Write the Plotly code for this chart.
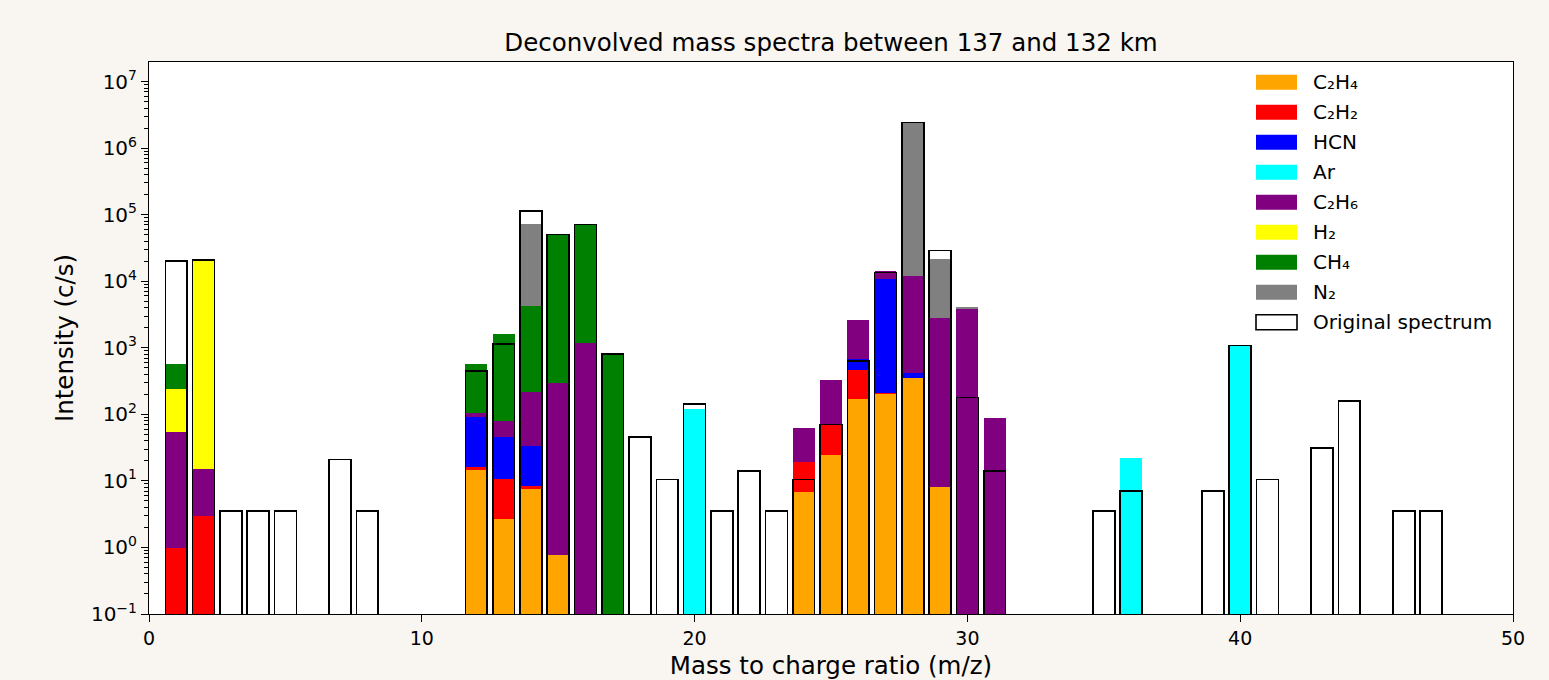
import plotly.graph_objects as go

# ---------------- data ----------------
C2H4_mz = [12, 13, 14, 15, 24, 25, 26, 27, 28, 29]
C2H4_val = [14.6, 2.66, 7.75, 0.77, 6.8, 24.2, 168, 208, 350, 8.1]

C2H2_mz = [1, 2, 12, 13, 14, 24, 25, 26, 27]
C2H2_val = [0.98, 2.95, 1.6, 8.2, 0.55, 12.4, 46.5, 288, 2]

HCN_mz = [12, 13, 14, 26, 27, 28]
HCN_val = [75, 34.7, 24.7, 211, 10730, 66]

Ar_mz = [20, 36, 40]
Ar_val = [120, 21.9, 1082]

C2H6_mz = [1, 2, 12, 13, 14, 15, 16, 24, 25, 26, 27, 28, 29, 30, 31]
C2H6_val = [52.6, 12, 13, 33.4, 180, 293, 1172, 42.3, 263, 1990, 3330, 11444, 2837, 3882, 87]

H2_mz = [1, 2]
H2_val = [183, 20985]

CH4_mz = [1, 12, 13, 14, 15, 16, 17]
CH4_val = [344, 457, 1506, 4097, 50300, 70230, 802]

N2_mz = [14, 28, 29, 30]
N2_val = [68790, 2.408e6, 18955, 233]

orig_mz = [1, 2, 3, 4, 5, 7, 8, 12, 13, 14, 15, 16, 17, 18, 19, 20, 21, 22, 23,
           24, 25, 26, 27, 28, 29, 30, 31, 35, 36, 39, 40, 41, 43, 44, 46, 47]
orig_val = [20000, 21000, 3.5, 3.5, 3.5, 21, 3.5, 446, 1148, 114500, 50600, 71400,
            802, 45.5, 10.5, 143, 3.5, 14, 3.5, 10.5, 70, 629, 13600, 2.42e6, 29100,
            180, 14, 3.5, 7, 7, 1082, 10.5, 31.5, 157.5, 3.5, 3.5]
orig_name = "Original spectrum"

species_names = ["C₂H₄", "C₂H₂", "HCN", "Ar", "C₂H₆", "H₂", "CH₄", "N₂"]
species_colors = ["#FFA500", "#FF0000", "#0000FF", "#00FFFF", "#800080", "#FFFF00", "#008000", "#808080"]
species_mz = [C2H4_mz, C2H2_mz, HCN_mz, Ar_mz, C2H6_mz, H2_mz, CH4_mz, N2_mz]
species_val = [C2H4_val, C2H2_val, HCN_val, Ar_val, C2H6_val, H2_val, CH4_val, N2_val]

y_tickvals = [1e-1, 1e0, 1e1, 1e2, 1e3, 1e4, 1e5, 1e6, 1e7]
y_ticktext = ["10<sup>−1</sup>", "10<sup>0</sup>", "10<sup>1</sup>", "10<sup>2</sup>",
              "10<sup>3</sup>", "10<sup>4</sup>", "10<sup>5</sup>", "10<sup>6</sup>",
              "10<sup>7</sup>"]
x_tickvals = [0, 10, 20, 30, 40, 50]

# ---------------- layout geometry (pixels) ----------------
W, H = 1549, 680
L, R, T, B = 149, 36, 62, 66
PW, PH = W - L - R, H - T - B


def px_x(px):
    return (px - L) / PW


def px_y(py):
    return (H - B - py) / PH


FONT = "DejaVu Sans"
fig = go.Figure()

for name, color, mzs, vals in zip(species_names, species_colors, species_mz, species_val):
    fig.add_trace(go.Bar(
        x=mzs, y=vals, name=name, width=0.8, showlegend=False,
        marker=dict(color=color, line=dict(width=0)),
        xaxis="x", yaxis="y",
    ))

fig.add_trace(go.Bar(
    x=orig_mz, y=orig_val, name=orig_name, width=0.8, showlegend=False,
    marker=dict(color="rgba(0,0,0,0)", line=dict(color="black", width=1.6)),
    xaxis="x2", yaxis="y2",
))

# ---------------- legend (drawn like matplotlib's) ----------------
shapes = []
annotations = []
leg_names = species_names + [orig_name]
leg_fill = species_colors + ["white"]
for i, (nm, fc) in enumerate(zip(leg_names, leg_fill)):
    cy = 82.2 + 30 * i
    is_orig = nm == orig_name
    shapes.append(dict(
        type="rect", xref="paper", yref="paper", layer="above",
        x0=px_x(1256), x1=px_x(1297), y0=px_y(cy + 7.5), y1=px_y(cy - 7.5),
        fillcolor=fc,
        line=dict(color="black" if is_orig else fc, width=1.6 if is_orig else 0),
    ))
    annotations.append(dict(
        text=nm, xref="paper", yref="paper", x=px_x(1311), y=px_y(cy),
        xanchor="left", yanchor="middle", showarrow=False,
        font=dict(family=FONT, size=20, color="black"),
    ))

minor_vals = [k * 10 ** e for e in range(-1, 8) for k in range(2, 10)]

yrange = [-1, 7.294]
fig.update_layout(
    width=W, height=H, autosize=False,
    barmode="stack",
    showlegend=False,
    paper_bgcolor="#f9f6f1",
    plot_bgcolor="white",
    margin=dict(l=L, r=R, t=T, b=B),
    font=dict(family=FONT, color="black", size=18),
    title=dict(text="Deconvolved mass spectra between 137 and 132 km",
               x=0.5, xref="paper", y=1 - 42 / H, yref="container",
               xanchor="center", yanchor="middle",
               font=dict(family=FONT, size=24.5, color="black")),
    xaxis=dict(range=[0, 50], tickmode="array", tickvals=x_tickvals,
               ticks="outside", ticklen=7, tickwidth=1, tickcolor="black",
               showline=True, linecolor="black", linewidth=1, mirror=True,
               showgrid=False, zeroline=False, automargin=False,
               tickfont=dict(family=FONT, size=19, color="black"),
               title=dict(text="Mass to charge ratio (m/z)", standoff=15,
                          font=dict(family=FONT, size=24.5, color="black"))),
    yaxis=dict(type="log", range=yrange, tickmode="array",
               tickvals=y_tickvals, ticktext=y_ticktext,
               ticks="outside", ticklen=7, tickwidth=1, tickcolor="black",
               minor=dict(tickmode="array", tickvals=minor_vals, ticks="outside",
                          ticklen=4, tickwidth=1, tickcolor="black", showgrid=False),
               showline=True, linecolor="black", linewidth=1, mirror=True,
               showgrid=False, zeroline=False, automargin=False,
               tickfont=dict(family=FONT, size=20, color="black"),
               title=dict(text="Intensity (c/s)", standoff=10,
                          font=dict(family=FONT, size=24.5, color="black"))),
    xaxis2=dict(range=[0, 50], overlaying="x", anchor="y2", visible=False),
    yaxis2=dict(type="log", range=yrange, overlaying="y", anchor="x2", visible=False),
    shapes=shapes,
    annotations=annotations,
)

fig.write_html("out.html")
